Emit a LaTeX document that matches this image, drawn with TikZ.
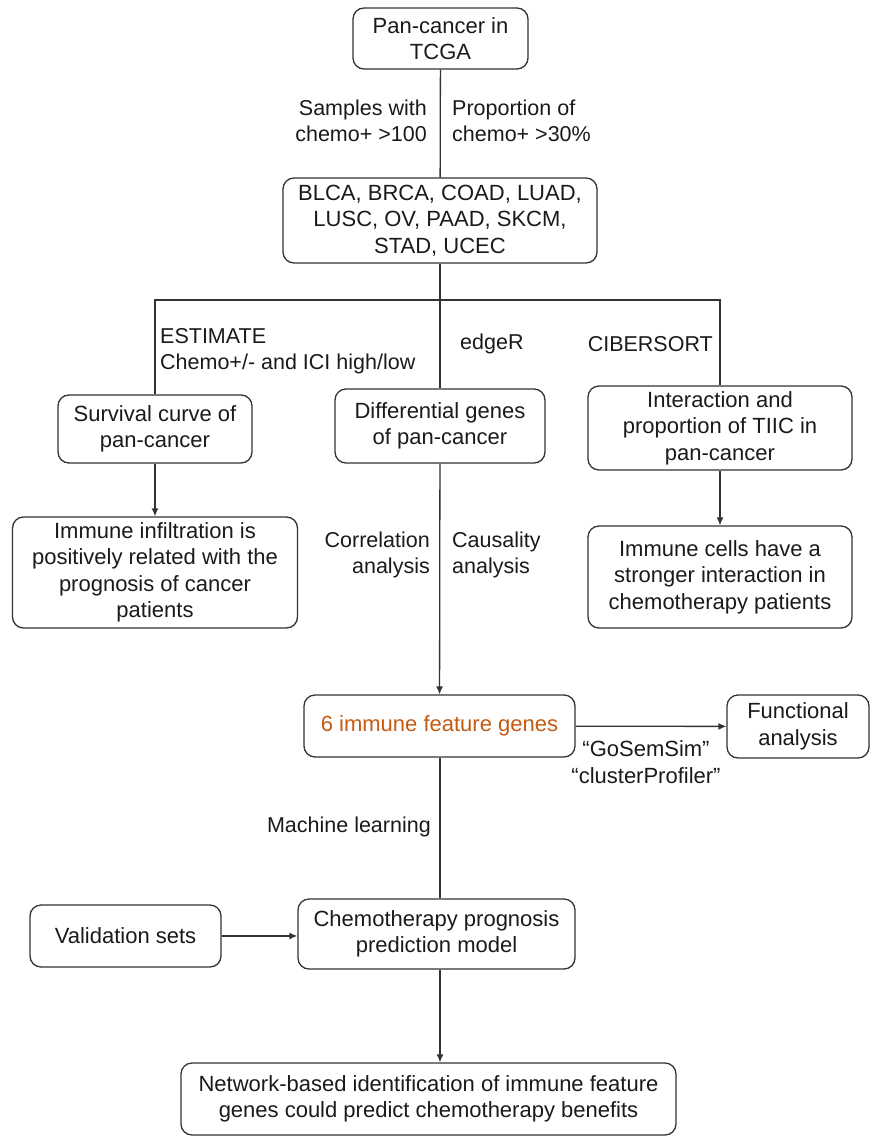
\documentclass[tikz,border=0pt]{standalone}
\usepackage{fontspec}
\setmainfont{Liberation Sans}
\usetikzlibrary{arrows, arrows.meta, calc, positioning}
\definecolor{edge}{HTML}{333333}
\definecolor{ink}{HTML}{1A1A1A}
\definecolor{genecol}{HTML}{C55A11}
\tikzset{
  box/.style={draw=edge, line width=1.3pt, rounded corners=11pt, align=center, inner sep=0pt, text=ink, font=\fontsize{22}{26.5}\selectfont},
  lbl/.style={inner sep=0pt, text=ink},
  link/.style={draw=edge, line width=1.3pt},
  arr/.style={link, -{Latex[length=8pt, width=7pt]}}
}
\begin{document}
\begin{tikzpicture}[x=1pt, y=-1pt, every node/.style={font=\fontsize{21.5}{26.5}\selectfont}]
\useasboundingbox (0,0) rectangle (871,1137);
% boxes
\node[box, minimum width=175, minimum height=61] (tcga) at (440.5,38.5) {Pan-cancer in\\TCGA};
\node[box, minimum width=314, minimum height=85] (types) at (440,220.5) {BLCA, BRCA, COAD, LUAD,\\LUSC, OV, PAAD, SKCM,\\STAD, UCEC};
\node[box, minimum width=194, minimum height=68] (surv) at (155,429) {Survival curve of\\pan-cancer};
\node[box, minimum width=210, minimum height=74] (diff) at (440,426) {Differential genes\\of pan-cancer};
\node[box, minimum width=264, minimum height=84] (tiic) at (720,428) {Interaction and\\proportion of TIIC in\\pan-cancer};
\node[box, minimum width=285, minimum height=111] (infil) at (155,572.5) {Immune infiltration is\\positively related with the\\prognosis of cancer\\patients};
\node[box, minimum width=264, minimum height=102] (cells) at (720,577) {Immune cells have a\\stronger interaction in\\chemotherapy patients};
\node[box, minimum width=271, minimum height=62, text=genecol] (genes) at (439.5,726) {6 immune feature genes};
\node[box, minimum width=142, minimum height=63] (func) at (798,726.5) {Functional\\analysis};
\node[box, minimum width=277, minimum height=70] (model) at (436.5,934) {Chemotherapy prognosis\\prediction model};
\node[box, minimum width=191, minimum height=62] (valid) at (125.5,936) {Validation sets};
\node[box, minimum width=495, minimum height=72] (final) at (428.5,1099) {Network-based identification of immune feature\\genes could predict chemotherapy benefits};
\coordinate (split) at (440,300);

% connectors
\draw[link] (tcga) -- (types);
\draw[link] (types.south) -- (split);
\draw[link] (surv.north) |- (split) -| (tiic.north);
\draw[link] (split) -- (diff.north);
\draw[arr] (surv) -- (infil);
\draw[arr] (tiic) -- (cells);
\draw[arr] (diff) -- (genes);
\draw[arr] (genes) -- (func);
\draw[link] (genes.south -| split) -- (model.north -| split);
\draw[arr] (valid) -- (valid -| model.west);
\draw[arr] (model.south -| split) -- (final.north -| split);

% labels
\node[lbl, align=right, anchor=east] (lsamp) at (427,121) {Samples with\\chemo+ >100};
\node[lbl, align=left, anchor=west] (lprop) at (452,121) {Proportion of\\chemo+ >30\%};
\node[lbl, align=left, anchor=west] (lest) at (160,351) {ESTIMATE\\Chemo+/- and ICI high/low};
\node[lbl, anchor=west] (ledge) at (460,344) {edgeR};
\node[lbl, anchor=east] (lcib) at (713,344) {CIBERSORT};
\node[lbl, align=right, anchor=east] (lcorr) at (430,555) {Correlation\\analysis};
\node[lbl, align=left, anchor=west] (lcaus) at (452,555) {Causality\\analysis};
\node[lbl, align=center, font=\fontsize{22}{27}\selectfont] (lgo) at (646,762) {“GoSemSim”\\“clusterProfiler”};
\node[lbl, anchor=east] (lml) at (431,827) {Machine learning};
\end{tikzpicture}
\end{document}
